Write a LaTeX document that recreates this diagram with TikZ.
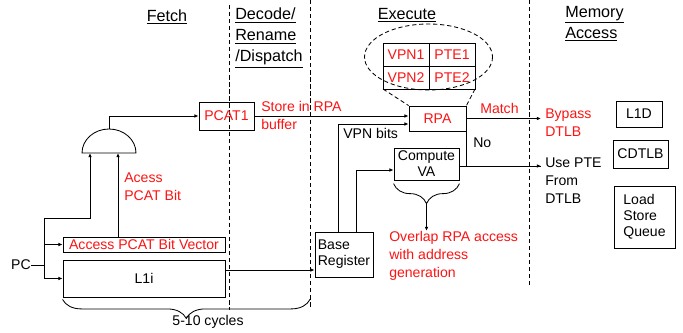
\documentclass[tikz,border=0pt]{standalone}
\usepackage{fontspec}
\setmainfont{Liberation Sans}
\usetikzlibrary{positioning, arrows.meta, calc, decorations.pathreplacing}
\definecolor{annred}{RGB}{250, 20, 20}
\tikzset{
    stagebox/.style={draw, line width=0.6pt, inner sep=1pt, font=\fontsize{10}{11.5}\selectfont},
    redbox/.style={stagebox, text=annred},
    cellbox/.style={redbox, outer sep=0pt, minimum width=11.5mm, minimum height=5.75mm},
    lbl/.style={inner sep=0pt, align=left, font=\fontsize{10}{12.8}\selectfont},
    redlbl/.style={lbl, text=annred},
    title/.style={inner sep=0pt, align=left, font=\fontsize{11.5}{14.8}\selectfont},
    arr/.style={-{Latex[length=3pt, width=2.6pt]}, line width=0.6pt},
    wire/.style={line width=0.6pt},
    stageline/.style={densely dashed, line width=0.6pt},
    brc/.style={decorate, decoration={brace, mirror, amplitude=#1}, line width=0.6pt}
}

\begin{document}
\begin{tikzpicture}[x=0.025cm, y=-0.025cm]
    \useasboundingbox (0,0) rectangle (683,333);
    % pipeline stage separators
    \coordinate (s1) at (229,0);
    \coordinate (s2) at (310,0);
    \coordinate (s3) at (529,0);
    \draw[stageline] (229,5) -- (229,310);
    \draw[stageline] (s2) -- (310,307);
    \draw[stageline] (s3) -- (529,285);

    % stage titles
    \node[title] (tfetch) at (167,17) {\underline{Fetch}};
    \node[title, anchor=north west] (tdecode) at (235,8) {\underline{Decode/}\\\underline{Rename}\\\underline{/Dispatch}};
    \node[title] (texec) at (407,15) {\underline{Execute}};
    \node[title, anchor=north west] (tmem) at (565,6) {\underline{Memory}\\\underline{Access}};

    % boxes
    \node[redbox, minimum width=13.75mm, minimum height=7mm] (pcat) at (226.5,116) {PCAT1};
    \node[redbox, minimum width=14.25mm, minimum height=6.25mm] (rpa) at (437.5,118.5) {RPA};
    \node[stagebox, align=center, minimum width=16.25mm, minimum height=8mm] (cva) at (426.5,164) {Compute\\VA};
    \node[stagebox, align=left, minimum width=14.5mm, minimum height=11.25mm] (base) at (344,254.5) {Base\\Register};
    \node[stagebox, minimum width=11.5mm, minimum height=6.5mm] (l1d) at (639,114) {L1D};
    \node[stagebox, minimum width=13.75mm, minimum height=7mm] (cdtlb) at (640.5,154) {CDTLB};
    \node[stagebox, align=left, minimum width=15.25mm, minimum height=15.5mm] (lsq) at (644.5,217) {Load\\Store\\Queue};
    \node[redbox, inner sep=0pt, minimum width=40.5mm, minimum height=3.75mm] (bitvec) at (144,244.5) {Access PCAT Bit Vector};
    \node[stagebox, minimum width=40.5mm, minimum height=9.25mm] (l1i) at (144,278.5) {L1i};

    % RPA buffer contents
    \node[cellbox] (vpn1) at (406,54.5) {VPN1};
    \node[cellbox, right=0pt of vpn1] (pte1) {PTE1};
    \node[cellbox, below=0pt of vpn1] (vpn2) {VPN2};
    \node[cellbox, right=0pt of vpn2] (pte2) {PTE2};
    \draw[stageline] (428.5,57) ellipse [x radius=64, y radius=33];
    \draw[stageline] (vpn2.south west) -- (rpa.north west);
    \draw[stageline] (pte2.south east) -- (rpa.north east);

    % AND gate
    \draw[wire] (82,153) arc[start angle=180, end angle=360, x radius=27, y radius=24] -- cycle;
    \coordinate (gateout) at (109,129);
    \coordinate (gatein1) at (90,153);
    \coordinate (gatein2) at (118,153);

    % fetch side
    \node[lbl] (pc) at (21,265) {PC};
    \coordinate (fork) at (44,265);
    \coordinate (forktop) at (44,218);
    \draw[wire] (pc.east) -- (fork);
    \draw[wire] (forktop) -- (fork |- l1i.west);
    \draw[arr] (fork |- bitvec.west) -- (bitvec.west);
    \draw[arr] (fork |- l1i.west) -- (l1i.west);
    \draw[arr] (forktop) -| (gatein1);
    \draw[arr] (bitvec.north -| gatein2) -- (gatein2);
    \draw[arr] (gateout) |- (pcat.west);
    \node[redlbl, anchor=north west] (acess) at (124,173) {Acess\\PCAT Bit};

    % to RPA
    \draw[arr] (pcat.east) -- (rpa.west |- pcat.east);
    \node[redlbl, anchor=north west] (store) at (261,101) {Store in RPA\\buffer};
    \coordinate (l1iout) at ($(l1i.east)+(0,-8.5)$);
    \draw[arr] (l1iout) -- (l1iout -| base.west);
    \draw[arr] ([xshift=-1.5mm]base.north) |- ($(rpa.west)+(0,5.5)$);
    \draw[arr] ([xshift=3mm]base.north) |- ($(cva.west)+(0,6)$);
    \node[lbl, anchor=west] (vpnbits) at (343,133) {VPN bits};

    % overlap
    \draw[brc=5mm] ([yshift=-0.8mm]cva.south west) -- ([yshift=-0.8mm]cva.south east);
    \coordinate (vatip) at ($(cva.south)+(0,24)$);
    \node[redlbl, anchor=north west] (overlap) at (389,231) {Overlap RPA access\\with address\\generation};
    \draw[arr] (vatip) -- (vatip |- overlap.north);

    % RPA outcomes
    \coordinate (bpin) at (541,118.5);
    \draw[arr] (rpa.east) -- (bpin);
    \node[redlbl, anchor=south west] (match) at (480,114) {Match};
    \node[redlbl, anchor=north west] (bypass) at (545,109) {Bypass\\DTLB};
    \coordinate (usein) at (541,166);
    \draw[arr] (rpa.south east) |- (usein);
    \draw[wire] (cva.east |- usein) -- (usein);
    \node[lbl, anchor=west] (no) at (473,143) {No};
    \node[lbl, anchor=north west] (usepte) at (545,158) {Use PTE\\From\\DTLB};

    % latency
    \draw[brc=4.75mm] ($(l1i.south west)+(0,2)$) -- ($(l1i.south west -| s2)+(0,2)$);
    \node[lbl] (cycles) at (208,322) {5-10 cycles};
\end{tikzpicture}
\end{document}
